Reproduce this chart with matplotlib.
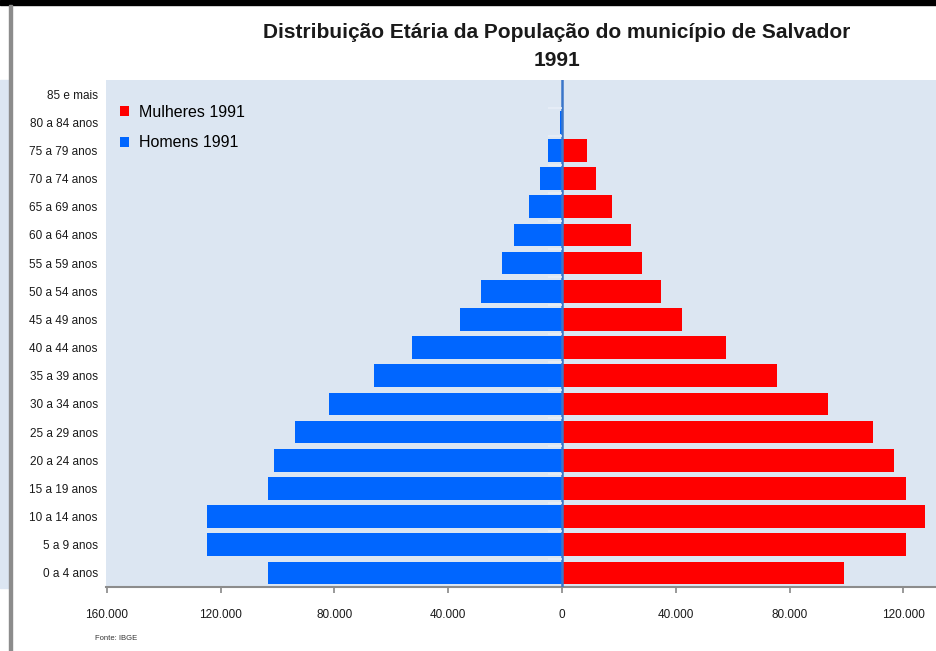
import matplotlib
matplotlib.use("Agg")
from matplotlib import pyplot as plt
from matplotlib.patches import Rectangle
from matplotlib.ticker import FuncFormatter

plt.rcParams['font.family'] = ['Liberation Sans', 'DejaVu Sans']

# Age groups, bottom to top
age_groups = ["0 a 4 anos", "5 a 9 anos", "10 a 14 anos", "15 a 19 anos",
              "20 a 24 anos", "25 a 29 anos", "30 a 34 anos", "35 a 39 anos",
              "40 a 44 anos", "45 a 49 anos", "50 a 54 anos", "55 a 59 anos",
              "60 a 64 anos", "65 a 69 anos", "70 a 74 anos", "75 a 79 anos",
              "80 a 84 anos", "85 e mais"]
homens_1991 = [103400, 124900, 124900, 103400, 101100, 93700, 81800, 66000,
               52800, 35900, 28500, 21000, 16800, 11600, 7700, 5000, 600, 150]
mulheres_1991 = [99200, 121100, 127800, 121100, 116800, 109300, 93600, 75700,
                 57800, 42300, 34800, 28000, 24300, 17600, 11800, 8900, 0, 0]
x_ticks = [-160000, -120000, -80000, -40000, 0, 40000, 80000, 120000]

BLUE = "#0066ff"
RED = "#ff0000"
PLOT_BG = "#dce6f2"

fig = plt.figure(figsize=(9.36, 6.51), dpi=100)

# bits of the screenshot around the chart
fig.patches.append(Rectangle((0, 1 - 5 / 651), 1, 5 / 651, transform=fig.transFigure,
                             color="black", zorder=0))
fig.patches.append(Rectangle((0, 1 - 588 / 651), 9 / 936, (588 - 80) / 651,
                             transform=fig.transFigure, color=PLOT_BG, zorder=0))
fig.patches.append(Rectangle((9 / 936, 0), 3 / 936, 1 - 5 / 651, transform=fig.transFigure,
                             color="#8c8c8c", zorder=1))

ax = fig.add_axes([106 / 936, 1 - 587 / 651, 1 - 106 / 936, (587 - 80) / 651])
ax.set_facecolor(PLOT_BG)

ypos = range(len(age_groups))
ax.barh(ypos, [-v for v in homens_1991], height=0.8, color=BLUE, label="Homens 1991", zorder=2)
ax.barh(ypos, mulheres_1991, height=0.8, color=RED, label="Mulheres 1991", zorder=2)
ax.axvline(0, color="#3a76c9", lw=1.8, zorder=3)
# little category ticks on the centre axis
ax.hlines([i + 0.5 for i in range(len(age_groups) - 1)], -5000, 0,
          color="#e8eef7", lw=1.2, zorder=3)

ax.set_yticks(list(ypos))
ax.set_yticklabels(age_groups, fontsize=8.5, color="#1a1a1a")
ax.tick_params(axis="y", length=0, pad=6)
ax.set_xticks(x_ticks)
ax.xaxis.set_major_formatter(FuncFormatter(lambda v, p: f"{abs(int(v)):,}".replace(",", ".")))
ax.tick_params(axis="x", labelsize=8.5, colors="#888888", labelcolor="#1a1a1a",
               length=4, width=1.2, pad=12)
ax.set_xlim(-160300, 131500)
ax.set_ylim(-0.5, len(age_groups) - 0.5)

for side in ("top", "right", "left"):
    ax.spines[side].set_visible(False)
ax.spines["bottom"].set_color("#8c8c8c")
ax.spines["bottom"].set_linewidth(1.5)

handles, labels = ax.get_legend_handles_labels()
ax.legend(handles[::-1], labels[::-1], loc="upper left", bbox_to_anchor=(0.0, 0.98),
          frameon=False, fontsize=11.5, handlelength=0.55, handleheight=0.55,
          handletextpad=0.6, labelspacing=1.0)

fig.text(557 / 936, 1 - 33 / 651, "Distribuição Etária da População do município de Salvador",
         ha="center", va="center", fontsize=15, fontweight="bold", color="#1a1a1a")
fig.text(557 / 936, 1 - 60 / 651, "1991", ha="center", va="center",
         fontsize=15, fontweight="bold", color="#1a1a1a")
fig.text(95 / 936, 1 - 638 / 651, "Fonte: IBGE", ha="left", va="center",
         fontsize=5.5, color="#333333")

fig.savefig("out.png", dpi=100)
